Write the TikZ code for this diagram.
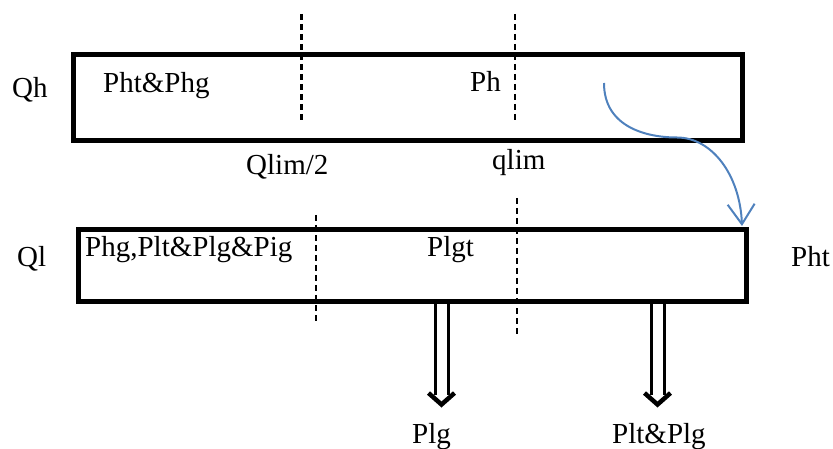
\documentclass[tikz,border=0pt]{standalone}
\usepackage{fontspec}
\setmainfont{Liberation Serif}
\usetikzlibrary{arrows.meta}
\begin{document}
\begin{tikzpicture}[x=1pt,y=-1pt,
  box/.style={line width=5pt},
  divider/.style={line width=2.2pt, dash pattern=on 6pt off 4pt},
  lbl/.style={anchor=base west, inner sep=0pt, font=\fontsize{29}{32}\selectfont},
  shaft/.style={line width=3pt},
  chevron/.style={line width=4.5pt, line join=miter},
  flow/.style={line width=2pt, draw={rgb,255:red,79;green,129;blue,189},
    -{Straight Barb[length=20pt,width=27pt,line width=2pt]}}]
\useasboundingbox (0,0) rectangle (833,449);
% boxes
\coordinate (hnw) at (73.5,55);
\coordinate (hse) at (742,140.5);
\coordinate (lnw) at (78,230);
\coordinate (lse) at (746,301.5);
\draw[box] (hnw) rectangle (hse);
\draw[box] (lnw) rectangle (lse);
% dashed dividers
\coordinate (d1a) at (301.5,14); \coordinate (d1b) at (301.5,121);
\coordinate (d2a) at (515,14);   \coordinate (d2b) at (515,122);
\coordinate (d3a) at (316,215);  \coordinate (d3b) at (316,323);
\coordinate (d4a) at (517,198);  \coordinate (d4b) at (517,336);
\draw[divider] (d1a) -- (d1b);
\draw[divider] (d2a) -- (d2b);
\draw[divider] (d3a) -- (d3b);
\draw[divider] (d4a) -- (d4b);
% labels
\node[lbl] (qh) at (12,98) {Qh};
\node[lbl] (phtphg) at (103,92.5) {Pht\&Phg};
\node[lbl] (ph) at (470,92) {Ph};
\node[lbl] (qlimh) at (246,175) {Qlim/2};
\node[lbl] (qlim) at (492,170) {qlim};
\node[lbl] (ql) at (17,267) {Ql};
\node[lbl] (phgplt) at (85,257) {Phg,Plt\&Plg\&Pig};
\node[lbl] (plgt) at (427,257) {Plgt};
\node[lbl] (pht) at (791,267) {Pht};
\node[lbl] (plg) at (412,443) {Plg};
\node[lbl] (pltplg) at (612,443) {Plt\&Plg};
% hollow arrows
\foreach \xc in {441.5, 657.5}{
  \draw[shaft] (\xc-6.5,303) -- (\xc-6.5,395);
  \draw[shaft] (\xc+6.5,303) -- (\xc+6.5,395);
  \draw[chevron] (\xc-13,393) -- (\xc,404.5) -- (\xc+13,393);
}
% blue transfer arrow
\coordinate (bs) at (604,83);
\coordinate (bm) at (677,137.5);
\coordinate (be) at (742,226);
\draw[flow] (bs) .. controls (604,128) and (648,137.5) .. (bm)
            .. controls (712,137.5) and (740,175) .. (be);
\end{tikzpicture}
\end{document}
